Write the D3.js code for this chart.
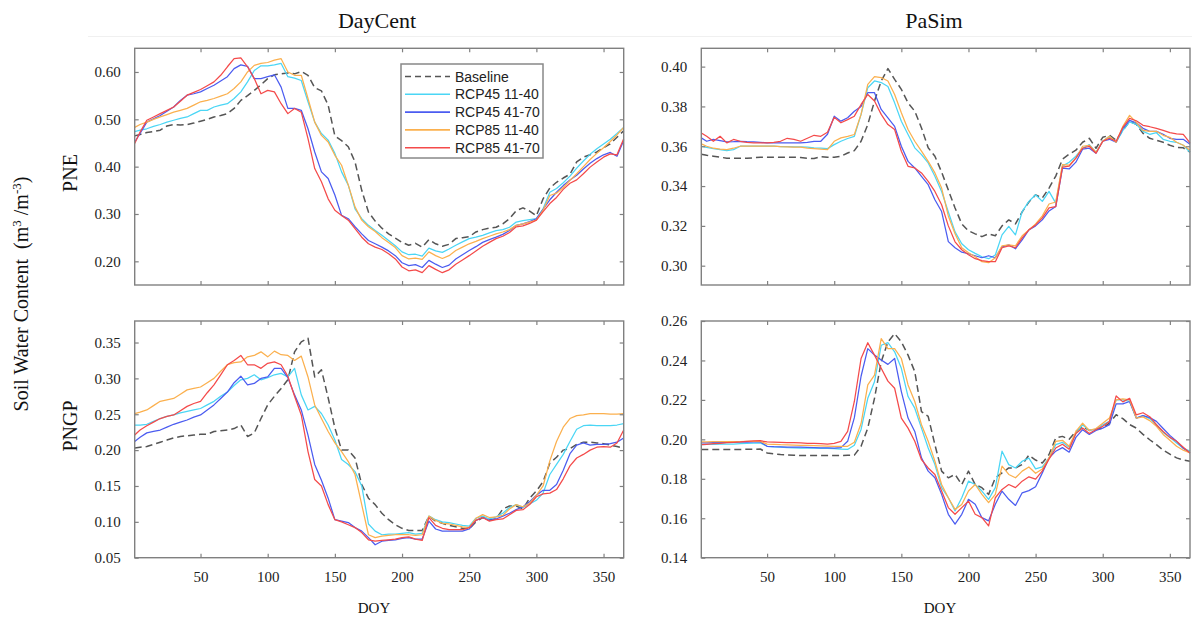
<!DOCTYPE html>
<html>
<head>
<meta charset="utf-8">
<script src="https://cdn.jsdelivr.net/npm/d3@7"></script>
<style>
  body { margin: 0; background: #fff; }
  text { white-space: pre; }
</style>
</head>
<body>
<div id="container"></div>
<script>
let w = 1192;
let h = 618;

// day of year, sampled every 5 days
const doy = [1,5,10,15,20,25,30,35,40,45,
  50,55,60,65,70,75,80,85,90,95,
  100,105,110,115,120,125,130,135,140,145,
  150,155,160,165,170,175,180,185,190,195,
  200,205,210,215,220,225,230,235,240,245,
  250,255,260,265,270,275,280,285,290,295,
  300,305,310,315,320,325,330,335,340,345,
  350,355,360,365];

const seriesNames = ["Baseline", "RCP45 11-40", "RCP45 41-70", "RCP85 11-40", "RCP85 41-70"];
const seriesColors = ["#555555", "#4ad6f5", "#4b5cf0", "#fbb04e", "#f44a4a"];

const xTicks = [50, 100, 150, 200, 250, 300, 350];
const yTicksDcPne = [0.20, 0.30, 0.40, 0.50, 0.60];
const yTicksPsPne = [0.30, 0.32, 0.34, 0.36, 0.38, 0.40];
const yTicksDcPngp = [0.05, 0.10, 0.15, 0.20, 0.25, 0.30, 0.35];
const yTicksPsPngp = [0.14, 0.16, 0.18, 0.20, 0.22, 0.24, 0.26];

///////////////// DayCent - PNE
const dcPneBase = [.465,.468,.472,.474,.477,.486,.489,.488,.489,.492,
  .496,.500,.505,.508,.512,.523,.540,.550,.561,.573,
  .586,.594,.596,.598,.596,.601,.593,.567,.560,.530,
  .465,.455,.442,.410,.350,.304,.285,.270,.258,.249,
  .240,.234,.238,.230,.246,.237,.232,.236,.248,.250,
  .252,.262,.267,.270,.272,.279,.290,.307,.313,.306,
  .296,.332,.355,.367,.376,.384,.410,.420,.425,.431,
  .440,.448,.462,.476];
const dcPne45a = [.474,.477,.480,.485,.489,.494,.498,.502,.505,.512,
  .519,.519,.526,.530,.533,.544,.558,.579,.603,.613,
  .613,.615,.618,.590,.587,.582,.537,.494,.470,.456,
  .428,.389,.361,.311,.290,.276,.265,.255,.244,.233,
  .220,.214,.215,.211,.228,.222,.219,.226,.234,.241,
  .248,.251,.255,.260,.265,.267,.272,.283,.286,.288,
  .290,.311,.346,.354,.366,.380,.397,.412,.426,.438,
  .448,.458,.470,.483];
const dcPne45b = [.452,.470,.494,.501,.508,.517,.526,.540,.551,.554,
  .558,.565,.572,.581,.590,.607,.615,.612,.586,.586,
  .590,.594,.568,.523,.523,.519,.480,.431,.389,.375,
  .340,.297,.290,.273,.258,.244,.237,.230,.222,.212,
  .197,.191,.193,.187,.202,.194,.187,.192,.205,.214,
  .223,.231,.240,.246,.251,.257,.265,.276,.279,.284,
  .290,.310,.330,.346,.360,.372,.382,.395,.407,.417,
  .425,.430,.422,.455];
const dcPne85a = [.483,.489,.494,.500,.505,.510,.515,.519,.523,.530,
  .537,.540,.544,.549,.554,.565,.579,.600,.614,.618,
  .620,.625,.628,.600,.593,.593,.544,.494,.466,.452,
  .424,.403,.361,.315,.287,.273,.263,.250,.240,.229,
  .212,.205,.207,.204,.220,.212,.206,.212,.223,.230,
  .237,.242,.248,.253,.258,.262,.267,.276,.279,.283,
  .287,.308,.339,.344,.356,.371,.385,.400,.415,.428,
  .440,.453,.467,.483];
const dcPne85b = [.449,.473,.498,.505,.512,.519,.526,.538,.551,.557,
  .563,.571,.579,.593,.611,.628,.630,.611,.586,.554,
  .561,.558,.533,.512,.523,.515,.459,.396,.368,.332,
  .308,.297,.287,.269,.251,.237,.230,.225,.216,.205,
  .188,.180,.182,.176,.191,.183,.176,.182,.194,.203,
  .212,.222,.232,.240,.248,.253,.261,.273,.275,.280,
  .287,.305,.322,.335,.352,.365,.372,.385,.399,.410,
  .420,.427,.425,.459];

///////////////// PaSim - PNE
const psPneBase = [.356,.3555,.355,.3545,.354,.354,.354,.354,.3542,.3545,
  .3545,.3545,.3545,.3545,.3545,.3543,.354,.3538,.3548,.3545,
  .3545,.355,.3566,.3578,.3625,.3709,.3827,.3928,.399,.3936,
  .3886,.3818,.3776,.3692,.3592,.355,.347,.338,.329,.321,
  .3175,.316,.3146,.316,.315,.320,.323,.321,.327,.332,
  .3356,.334,.339,.345,.3535,.356,.358,.362,.364,.359,
  .3645,.3655,.363,.368,.3725,.371,.3665,.364,.363,.362,
  .3605,.3594,.3592,.357];
const psPne45a = [.360,.3594,.3588,.3583,.3578,.3583,.360,.360,.360,.360,
  .360,.360,.3598,.3598,.3597,.3597,.3595,.3592,.359,.3588,
  .3608,.3625,.3639,.365,.376,.3894,.3928,.392,.390,.3818,
  .3726,.3659,.3592,.3558,.3516,.3449,.3373,.327,.317,.311,
  .308,.3062,.3045,.3035,.3054,.3155,.3197,.3155,.3272,.3323,
  .3356,.3323,.3373,.3314,.350,.352,.355,.359,.3608,.357,
  .3625,.365,.362,.368,.3722,.371,.3675,.366,.3668,.3635,
  .3625,.362,.3605,.357];
const psPne45b = [.3642,.3625,.3634,.3628,.3622,.3623,.3625,.3623,.3622,.362,
  .3617,.3617,.3617,.3617,.3617,.3617,.362,.3625,.3625,.366,
  .3751,.3726,.3743,.3776,.380,.3869,.3869,.3785,.3743,.370,
  .360,.3524,.3491,.3449,.3407,.3331,.3272,.3121,.309,.3068,
  .306,.305,.304,.305,.304,.3095,.3105,.3085,.313,.318,
  .320,.323,.3275,.3297,.349,.3486,.352,.3585,.359,.3565,
  .3625,.3635,.362,.369,.373,.3718,.369,.3675,.3675,.366,
  .364,.3634,.3635,.361];
const psPne85a = [.3612,.360,.359,.3585,.3583,.359,.360,.360,.360,.360,
  .360,.360,.3598,.3597,.3596,.3595,.359,.3588,.3585,.3583,
  .3625,.3642,.365,.3659,.376,.3911,.395,.3945,.3928,.386,
  .3768,.3684,.3625,.3575,.3524,.3466,.339,.325,.316,.309,
  .3065,.3045,.302,.3015,.304,.310,.3105,.310,.315,.318,
  .321,.325,.331,.332,.3508,.3505,.354,.360,.3605,.357,
  .3625,.365,.362,.370,.3755,.372,.368,.3675,.3675,.3655,
  .3645,.362,.3605,.358];
const psPne85b = [.3667,.365,.3625,.365,.3617,.3634,.3625,.362,.3617,.3617,
  .3617,.362,.3625,.364,.3635,.3625,.364,.3655,.365,.367,
  .3745,.3718,.3734,.3751,.381,.386,.3827,.376,.3709,.3684,
  .3575,.3499,.3491,.3466,.3424,.3373,.3306,.320,.312,.308,
  .3055,.3035,.3025,.302,.302,.309,.310,.309,.314,.318,
  .3205,.324,.329,.3297,.3495,.350,.354,.359,.360,.3565,
  .3625,.364,.3625,.3695,.374,.3728,.3705,.3698,.369,.368,
  .3668,.3662,.366,.3617];

///////////////// DayCent - PNGP
const dcPngpBase = [.203,.204,.205,.208,.211,.214,.217,.219,.220,.221,
  .222,.222,.226,.227,.228,.230,.235,.219,.224,.244,
  .263,.275,.286,.298,.337,.351,.356,.302,.312,.273,
  .231,.200,.200,.189,.152,.133,.124,.112,.103,.096,
  .091,.088,.088,.088,.108,.101,.098,.095,.093,.091,
  .090,.100,.106,.103,.104,.118,.122,.122,.118,.133,
  .143,.156,.182,.190,.200,.202,.208,.211,.211,.210,
  .209,.207,.205,.203];
const dcPngp45a = [.235,.235,.236,.240,.244,.247,.249,.252,.254,.256,
  .258,.263,.268,.275,.281,.290,.298,.300,.305,.298,
  .301,.305,.307,.302,.314,.277,.256,.261,.251,.235,
  .214,.187,.180,.170,.150,.097,.087,.082,.083,.083,
  .084,.085,.083,.084,.108,.103,.100,.099,.097,.095,
  .094,.105,.108,.104,.107,.112,.120,.124,.120,.125,
  .130,.140,.166,.180,.194,.212,.229,.234,.235,.234,
  .234,.234,.235,.237];
const dcPngp45b = [.212,.218,.224,.226,.228,.232,.236,.239,.242,.246,
  .249,.256,.263,.272,.281,.294,.303,.291,.293,.300,
  .302,.314,.314,.301,.277,.256,.221,.180,.158,.133,
  .103,.101,.099,.092,.087,.078,.068,.073,.074,.075,
  .077,.078,.076,.076,.101,.090,.087,.087,.087,.087,
  .090,.102,.106,.102,.104,.108,.112,.117,.121,.128,
  .137,.144,.144,.152,.172,.195,.207,.210,.207,.208,
  .208,.209,.211,.217];
const dcPngp85a = [.251,.253,.256,.262,.268,.270,.272,.278,.284,.286,
  .288,.294,.300,.310,.319,.322,.323,.330,.332,.337,
  .330,.338,.333,.332,.325,.331,.302,.263,.244,.226,
  .210,.198,.184,.166,.124,.082,.078,.080,.081,.082,
  .082,.082,.081,.082,.108,.102,.098,.097,.095,.093,
  .092,.105,.110,.106,.107,.109,.118,.124,.121,.126,
  .137,.150,.185,.212,.232,.244,.248,.249,.251,.251,
  .251,.250,.250,.251];
const dcPngp85b = [.221,.228,.234,.239,.244,.247,.249,.255,.261,.265,
  .268,.280,.291,.305,.319,.325,.332,.319,.319,.314,
  .321,.323,.319,.303,.275,.249,.198,.159,.150,.124,
  .103,.100,.096,.092,.085,.075,.073,.074,.075,.076,
  .078,.079,.076,.074,.106,.095,.091,.089,.089,.089,
  .092,.102,.106,.101,.103,.104,.110,.116,.117,.124,
  .135,.139,.140,.145,.160,.178,.189,.194,.200,.204,
  .205,.204,.210,.228];

///////////////// PaSim - PNGP
const psPngpBase = [.1948,.1948,.1948,.1948,.1948,.1948,.1949,.195,.195,.1951,
  .1931,.1926,.1923,.1921,.1919,.1918,.1918,.1918,.1918,.1918,
  .1918,.1918,.1919,.192,.1965,.2057,.2208,.2393,.2494,.2536,
  .2494,.2427,.2343,.2141,.2116,.1973,.1839,.1805,.1822,.1771,
  .1839,.1771,.1755,.1721,.1805,.183,.1855,.1855,.1872,.192,
  .1895,.188,.1923,.2007,.2015,.200,.204,.2066,.2045,.205,
  .2057,.2082,.2125,.2105,.2075,.2057,.2025,.1998,.1973,.1945,
  .1925,.1906,.1895,.1889];
const psPngp45a = [.1973,.1974,.1975,.1976,.1976,.1976,.1978,.198,.1981,.1982,
  .1965,.1962,.196,.1958,.1957,.1956,.1955,.1955,.1954,.1954,
  .1953,.1951,.1949,.197,.205,.2208,.2292,.2477,.249,.2444,
  .236,.2217,.2158,.2057,.1956,.1872,.1755,.1704,.1637,.1704,
  .1788,.1771,.1738,.1696,.1755,.194,.1872,.1855,.1889,.1905,
  .185,.186,.1906,.1973,.1985,.196,.203,.2074,.2045,.205,
  .2074,.2091,.22,.22,.2192,.2108,.212,.2105,.2074,.2035,
  .201,.1982,.1955,.194];
const psPngp45b = [.1982,.1982,.1983,.1984,.1985,.1985,.1986,.1986,.1987,.1987,
  .1965,.1963,.1962,.1961,.196,.196,.1959,.1958,.1957,.1957,
  .1956,.1958,.199,.211,.232,.246,.2427,.2402,.238,.241,
  .2242,.2108,.204,.1906,.1839,.1805,.1721,.162,.157,.162,
  .1696,.1671,.1603,.1587,.1671,.1738,.1696,.1665,.1729,.174,
  .176,.183,.1905,.194,.1958,.1935,.201,.2049,.2025,.2045,
  .2057,.2074,.218,.218,.2192,.2108,.212,.211,.2091,.2055,
  .202,.199,.1955,.1931];
const psPngp85a = [.1987,.1987,.1988,.1988,.1989,.1989,.1989,.199,.199,.199,
  .1976,.1975,.1973,.1972,.1971,.197,.1969,.1968,.1967,.1966,
  .1965,.1965,.1965,.1985,.208,.2276,.2326,.2511,.246,.246,
  .241,.2276,.2192,.2074,.199,.1889,.1771,.1704,.1645,.167,
  .1738,.1771,.1721,.1679,.1721,.1864,.1822,.1805,.1839,.186,
  .1828,.185,.1906,.199,.1995,.1965,.204,.2082,.2045,.2055,
  .2082,.2108,.22,.2205,.22,.2108,.2114,.2095,.2066,.2025,
  .1995,.1965,.1945,.1931];
const psPngp85b = [.1973,.1975,.1978,.198,.1983,.1985,.1987,.199,.1992,.1993,
  .1987,.1986,.1985,.1984,.1983,.1982,.198,.1979,.1978,.1976,
  .198,.199,.204,.2192,.241,.249,.2427,.236,.2295,.2259,
  .2108,.2057,.199,.1897,.1855,.1822,.1738,.1654,.162,.1654,
  .1687,.162,.1603,.1561,.1704,.1746,.1771,.1755,.1788,.181,
  .1798,.184,.19,.1956,.1975,.195,.203,.2057,.203,.205,
  .2066,.2091,.222,.219,.2208,.2124,.2135,.2115,.2074,.204,
  .201,.199,.196,.1931];

let viz = d3.select("#container")
  .append("svg")
    .attr("width", w)
    .attr("height", h)
    .style("background-color", "white");

const serif = "'Liberation Serif', 'Times New Roman', serif";
const sans = "'Liberation Sans', Arial, sans-serif";

// panel layout
let colX = [[134.7, 623.7], [701.3, 1190]];
let rowY = [[48.3, 285], [321, 557.7]];

let panels = [
  {col: 0, row: 0, domain: [0.15, 0.65], ticks: yTicksDcPne,
   series: [dcPneBase, dcPne45a, dcPne45b, dcPne85a, dcPne85b]},
  {col: 1, row: 0, domain: [0.2903, 0.4092], ticks: yTicksPsPne,
   series: [psPneBase, psPne45a, psPne45b, psPne85a, psPne85b]},
  {col: 0, row: 1, domain: [0.05, 0.38], ticks: yTicksDcPngp,
   series: [dcPngpBase, dcPngp45a, dcPngp45b, dcPngp85a, dcPngp85b]},
  {col: 1, row: 1, domain: [0.14, 0.26], ticks: yTicksPsPngp,
   series: [psPngpBase, psPngp45a, psPngp45b, psPngp85a, psPngp85b]}
];

// faint rule under the titles
viz.append("line")
  .attr("x1", 88).attr("x2", w).attr("y1", 36.5).attr("y2", 36.5)
  .attr("stroke", "#f0f0f0").attr("stroke-width", 1);

function styleAxis(g, showLabels) {
  g.select(".domain").remove();
  g.selectAll(".tick line").attr("stroke", "#808080").attr("stroke-width", 1.2);
  g.selectAll(".tick text")
    .attr("fill", "#222")
    .style("font-family", serif)
    .style("font-size", "15px");
  if (!showLabels) g.selectAll(".tick text").remove();
}

function drawPanel(p) {
  let left = colX[p.col][0], right = colX[p.col][1];
  let top = rowY[p.row][0], bottom = rowY[p.row][1];

  let xScale = d3.scaleLinear().domain([1, 365]).range([left, right]);
  let yScale = d3.scaleLinear().domain(p.domain).range([bottom, top]);

  let g = viz.append("g").attr("class", "panel");

  let line = d3.line()
    .x((d, i) => xScale(doy[i]))
    .y(d => yScale(d));

  p.series.forEach(function(vals, k) {
    g.append("path")
      .attr("d", line(vals))
      .attr("fill", "none")
      .attr("stroke", seriesColors[k])
      .attr("stroke-width", k == 0 ? 1.5 : 1.25)
      .attr("stroke-dasharray", k == 0 ? "7,4" : null)
      .attr("stroke-linejoin", "round");
  });

  // ticks on all four sides, pointing inward
  let yLeft = g.append("g").attr("transform", "translate(" + left + ",0)")
    .call(d3.axisLeft(yScale).tickValues(p.ticks).tickFormat(d3.format(".2f"))
      .tickSizeInner(-4).tickSizeOuter(0).tickPadding(14));
  styleAxis(yLeft, true);

  let yRight = g.append("g").attr("transform", "translate(" + right + ",0)")
    .call(d3.axisRight(yScale).tickValues(p.ticks).tickSizeInner(-4).tickSizeOuter(0));
  styleAxis(yRight, false);

  let xTop = g.append("g").attr("transform", "translate(0," + top + ")")
    .call(d3.axisTop(xScale).tickValues(xTicks).tickSizeInner(-4).tickSizeOuter(0));
  styleAxis(xTop, false);

  let xBottom = g.append("g").attr("transform", "translate(0," + bottom + ")")
    .call(d3.axisBottom(xScale).tickValues(xTicks).tickSizeInner(-4).tickSizeOuter(0).tickPadding(14));
  styleAxis(xBottom, p.row == 1);

  g.append("rect")
    .attr("x", left).attr("y", top)
    .attr("width", right - left).attr("height", bottom - top)
    .attr("fill", "none").attr("stroke", "#808080").attr("stroke-width", 1.4);
}

panels.forEach(drawPanel);

// column titles
viz.append("text").attr("x", 377).attr("y", 28).attr("text-anchor", "middle")
  .style("font-family", serif).style("font-size", "22px").attr("fill", "#111").text("DayCent");
viz.append("text").attr("x", 934).attr("y", 28).attr("text-anchor", "middle")
  .style("font-family", serif).style("font-size", "22px").attr("fill", "#111").text("PaSim");

// row labels
viz.append("text").attr("transform", "translate(77,173) rotate(-90)").attr("text-anchor", "middle")
  .style("font-family", serif).style("font-size", "20px").attr("fill", "#111").text("PNE");
viz.append("text").attr("transform", "translate(77,426) rotate(-90)").attr("text-anchor", "middle")
  .style("font-family", serif).style("font-size", "20px").attr("fill", "#111").text("PNGP");

// shared y label
let yLab = viz.append("text").attr("transform", "translate(28,294) rotate(-90)").attr("text-anchor", "middle")
  .style("font-family", serif).style("font-size", "20px").attr("fill", "#111");
yLab.append("tspan").text("Soil Water Content  (m");
yLab.append("tspan").attr("dy", -7).style("font-size", "13px").text("3");
yLab.append("tspan").attr("dy", 7).text(" /m");
yLab.append("tspan").attr("dy", -7).style("font-size", "13px").text("-3");
yLab.append("tspan").attr("dy", 7).text(")");

// x labels
viz.append("text").attr("x", 374).attr("y", 613).attr("text-anchor", "middle")
  .style("font-family", serif).style("font-size", "15px").attr("fill", "#111").text("DOY");
viz.append("text").attr("x", 940).attr("y", 613).attr("text-anchor", "middle")
  .style("font-family", serif).style("font-size", "15px").attr("fill", "#111").text("DOY");

// legend
let legend = viz.append("g").attr("class", "legend");
legend.append("rect")
  .attr("x", 401).attr("y", 64).attr("width", 142).attr("height", 94)
  .attr("fill", "white").attr("stroke", "#888").attr("stroke-width", 1.5);
seriesNames.forEach(function(name, i) {
  let y = 76.5 + i * 17.8;
  legend.append("line")
    .attr("x1", 405).attr("x2", 450).attr("y1", y).attr("y2", y)
    .attr("stroke", seriesColors[i])
    .attr("stroke-width", 1.6)
    .attr("stroke-dasharray", i == 0 ? "6,4" : null);
  legend.append("text")
    .attr("x", 455).attr("y", y).attr("dy", "0.36em")
    .style("font-family", sans).style("font-size", "14px")
    .attr("fill", "#222").text(name);
});
</script>
</body>
</html>
